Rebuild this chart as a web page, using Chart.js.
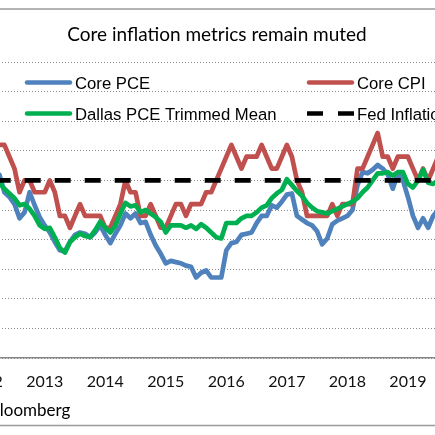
<!DOCTYPE html>
<html><head><meta charset="utf-8">
<script src="https://cdn.jsdelivr.net/npm/chart.js@4.4.1/dist/chart.umd.min.js"></script>
<style>
html,body{margin:0;padding:0;width:435px;height:435px;overflow:hidden;background:#fff;}
#wrap{position:absolute;left:-60px;top:0;width:554px;height:435px;}
</style></head><body>
<div id="wrap"><canvas id="c" width="554" height="435"></canvas></div>
<script>
// ---- data ----
const years = ['2012','2013','2014','2015','2016','2017','2018','2019'];
const monthNames = ['Jan','Feb','Mar','Apr','May','Jun','Jul','Aug','Sep','Oct','Nov','Dec'];
const categories = [];
for (let i = 0; i < 91; i++) categories.push(monthNames[i % 12] + ' ' + years[Math.floor(i / 12)]);

const corePCE = [
 2.00,2.00,2.05,2.05,1.90,1.86,1.80,1.68,1.73,1.90,1.79,1.69,
 1.62,1.56,1.48,1.41,1.40,1.48,1.54,1.56,1.55,1.52,1.56,1.62,
 1.54,1.47,1.55,1.62,1.72,1.68,1.72,1.64,1.65,1.54,1.45,1.38,
 1.30,1.32,1.31,1.30,1.28,1.27,1.18,1.22,1.24,1.18,1.18,1.18,
 1.41,1.47,1.48,1.54,1.55,1.56,1.64,1.70,1.70,1.79,1.77,1.82,
 1.88,1.89,1.70,1.67,1.64,1.62,1.57,1.46,1.51,1.63,1.66,1.68,
 1.70,1.75,1.96,2.07,2.06,2.09,2.13,2.10,2.05,1.93,2.06,2.00,
 1.86,1.70,1.60,1.68,1.60,1.70,1.75
];
const coreCPI = [
 2.3,2.2,2.3,2.3,2.3,2.2,2.1,1.9,2.0,2.0,1.9,1.9,
 1.9,2.0,1.9,1.7,1.7,1.6,1.7,1.8,1.7,1.7,1.7,1.7,
 1.6,1.6,1.7,1.8,2.0,1.9,1.9,1.7,1.7,1.8,1.7,1.6,
 1.6,1.7,1.8,1.8,1.7,1.8,1.8,1.8,1.9,1.9,2.0,2.1,
 2.2,2.3,2.2,2.1,2.2,2.2,2.2,2.3,2.2,2.1,2.1,2.2,
 2.3,2.2,2.0,1.9,1.7,1.7,1.7,1.7,1.7,1.8,1.7,1.8,
 1.8,1.8,2.1,2.1,2.2,2.3,2.4,2.2,2.2,2.1,2.2,2.2,
 2.2,2.1,2.0,2.1,2.0,2.1,2.2
];
const dallasTrimmedMean = [
 2.00,2.00,1.98,1.98,1.93,1.89,1.85,1.79,1.80,1.76,1.70,1.62,
 1.59,1.60,1.52,1.43,1.39,1.48,1.52,1.55,1.53,1.52,1.58,1.65,
 1.60,1.56,1.62,1.72,1.81,1.78,1.79,1.73,1.75,1.72,1.69,1.65,
 1.56,1.62,1.62,1.62,1.60,1.62,1.59,1.63,1.60,1.56,1.52,1.51,
 1.64,1.64,1.64,1.68,1.70,1.70,1.73,1.77,1.79,1.85,1.89,1.92,
 2.01,1.96,1.91,1.87,1.81,1.77,1.74,1.73,1.72,1.74,1.76,1.78,
 1.80,1.82,1.85,1.90,1.94,2.00,2.06,2.06,2.07,2.04,2.07,2.07,
 1.97,1.94,2.00,2.09,1.98,1.97,2.00
];
const fedTarget = 2.0;
const yMin = 0.5, yMax = 3.0, yStep = 0.25;
const titleText = 'Core inflation metrics remain muted';
const sourceText = 'Source: Bloomberg';

const seriesNames = ['Core PCE','Core CPI','Dallas PCE Trimmed Mean','Fed Inflation target'];

// ---- layout constants (viewport offset of canvas = 60px) ----
const OFF = 60;

const decor = {
  id: 'decor',
  beforeDraw(chart) {
    const c = chart.ctx;
    c.save();
    c.fillStyle = '#fff';
    c.fillRect(0, 0, chart.width, chart.height);
    c.strokeStyle = '#9a9a9a';
    c.lineWidth = 1.5;
    c.beginPath();
    c.moveTo(0, 9); c.lineTo(chart.width, 9);
    c.moveTo(0, 425.5); c.lineTo(chart.width, 425.5);
    c.stroke();
    c.restore();
  },
  afterDraw(chart) {
    const c = chart.ctx;
    c.save();
    // title
    c.font = '19px Lato, "Open Sans", sans-serif';
    c.fillStyle = '#000';
    c.textAlign = 'center';
    c.textBaseline = 'middle';
    c.fillText(titleText, OFF + 217, 35);
    c.textAlign = 'left';
    // legend (2 x 2)
    const cols = [OFF + 25, OFF + 307];
    const rows = [82.5, 113.5];
    const lineLen = 47;
    c.font = '16.7px "Liberation Sans", Arial, sans-serif';
    c.textBaseline = 'alphabetic';
    chart.data.datasets.forEach((ds, i) => {
      const x = cols[i % 2], y = rows[Math.floor(i / 2)];
      c.strokeStyle = ds.borderColor;
      c.lineWidth = 4.5;
      if (ds.borderDash) {
        c.lineCap = 'butt';
        c.beginPath(); c.moveTo(x, y); c.lineTo(x + 16, y);
        c.moveTo(x + lineLen - 16, y); c.lineTo(x + lineLen, y); c.stroke();
      } else {
        c.lineCap = 'round';
        c.beginPath(); c.moveTo(x + 2, y); c.lineTo(x + lineLen - 2, y); c.stroke();
      }
      c.fillText(ds.label, x + lineLen + 3, y + 6);
    });
    // source
    c.font = '17px Lato, "Open Sans", sans-serif';
    const pre = c.measureText('Source: B').width;
    c.fillText(sourceText, OFF - pre, 416);
    c.restore();
  }
};

new Chart(document.getElementById('c'), {
  type: 'line',
  data: {
    labels: categories,
    datasets: [
      {label: seriesNames[0], data: corePCE, borderColor: '#4F81BD', order: 3},
      {label: seriesNames[1], data: coreCPI, borderColor: '#C0504D', order: 2},
      {label: seriesNames[2], data: dallasTrimmedMean, borderColor: '#00B050', order: 1},
      {label: seriesNames[3], data: categories.map(() => fedTarget), borderColor: '#000000',
       borderDash: [16, 14], borderDashOffset: 19.5, borderCapStyle: 'butt', order: 0}
    ].map(d => Object.assign({borderWidth: 4.7, pointRadius: 0, tension: 0, fill: false,
                               borderJoinStyle: 'round', borderCapStyle: 'round'}, d))
  },
  options: {
    responsive: false,
    animation: false,
    layout: {padding: {left: 44.2, right: 55.8, top: 62, bottom: 37}},
    plugins: {
      legend: {display: false},
      tooltip: {enabled: false},
      title: {display: false}
    },
    scales: {
      x: {
        type: 'category',
        offset: false,
        grid: {display: false, drawTicks: false},
        border: {display: true, color: '#868686', width: 1.5},
        ticks: {autoSkip: false, maxRotation: 0, minRotation: 0, padding: 14, color: '#111',
                font: {family: 'Lato, "Open Sans", sans-serif', size: 16},
                callback: (v, i) => (i % 12 === 0 ? years[i / 12] : '')},
        afterFit: s => { s.height = 40; }
      },
      y: {
        min: yMin, max: yMax,
        ticks: {display: false, stepSize: yStep},
        grid: {color: '#8a8a8a', lineWidth: 1, drawTicks: false},
        border: {display: false, dash: [1, 2]},
        afterFit: s => { s.width = 0; }
      }
    }
  },
  plugins: [decor]
});
</script>
</body></html>
